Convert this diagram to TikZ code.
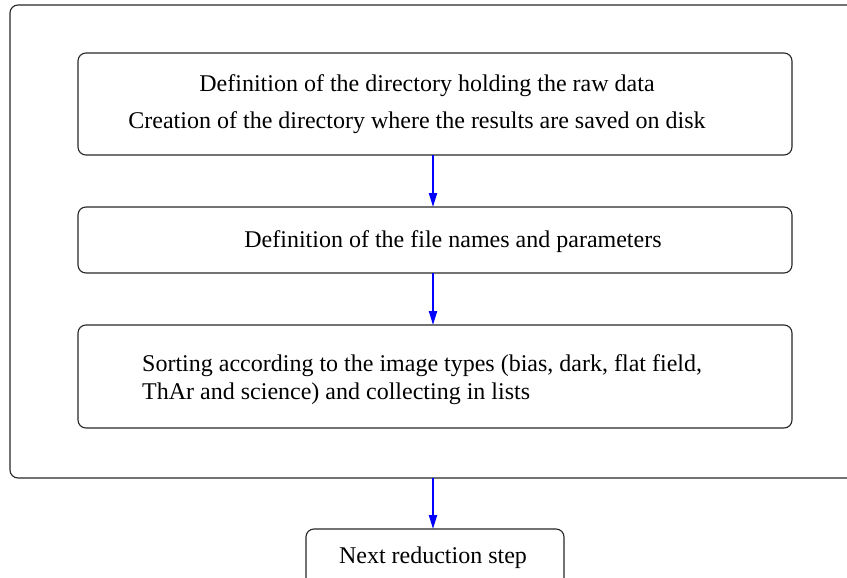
\documentclass[tikz,border=0pt]{standalone}
\usepackage{fontspec}
\setmainfont{Liberation Serif}
\usetikzlibrary{arrows.meta}
\begin{document}
\begin{tikzpicture}[x=1pt,y=-1pt,
  frame/.style={draw=black!85,line width=1.1pt,rounded corners=8pt},
  stepbox/.style={draw=black!85,line width=1.1pt,rounded corners=8pt},
  flow/.style={draw=blue,line width=2pt,-{Triangle[length=14pt,width=8pt]}},
  txt/.style={font=\fontsize{24}{26}\selectfont,inner sep=0pt,anchor=base}]
\useasboundingbox (0,0) rectangle (847,578);
\begin{scope}
\clip (0,0) rectangle (847,578);
% outer group frame (runs past the right edge)
\draw[frame] (10,5) rectangle (870,478);
% process boxes
\draw[stepbox] (78,53) rectangle (792,155);
\draw[stepbox] (78,207) rectangle (792,273);
\draw[stepbox] (78,325) rectangle (792,428);
\draw[stepbox] (306,529) rectangle (564,600);
\end{scope}
\coordinate (b1b) at (433,155);
\coordinate (b2t) at (433,207);
\coordinate (b2b) at (433,273);
\coordinate (b3t) at (433,325);
\coordinate (gb) at (433,478);
\coordinate (nt) at (433,529);
\node[txt] (t1a) at (427,92) {Definition of the directory holding the raw data};
\node[txt] (t1b) at (417,128.5) {Creation of the directory where the results are saved on disk};
\node[txt] (t2) at (453,247.5) {Definition of the file names and parameters};
\node[txt,anchor=base west] (t3a) at (142,371) {Sorting according to the image types (bias, dark, flat field,};
\node[txt,anchor=base west] (t3b) at (142,399.5) {ThAr and science) and collecting in lists};
\node[txt] (t4) at (433,563) {Next reduction step};
\draw[flow] (b1b) -- (b2t);
\draw[flow] (b2b) -- (b3t);
\draw[flow] (gb) -- (nt);
\end{tikzpicture}
\end{document}
